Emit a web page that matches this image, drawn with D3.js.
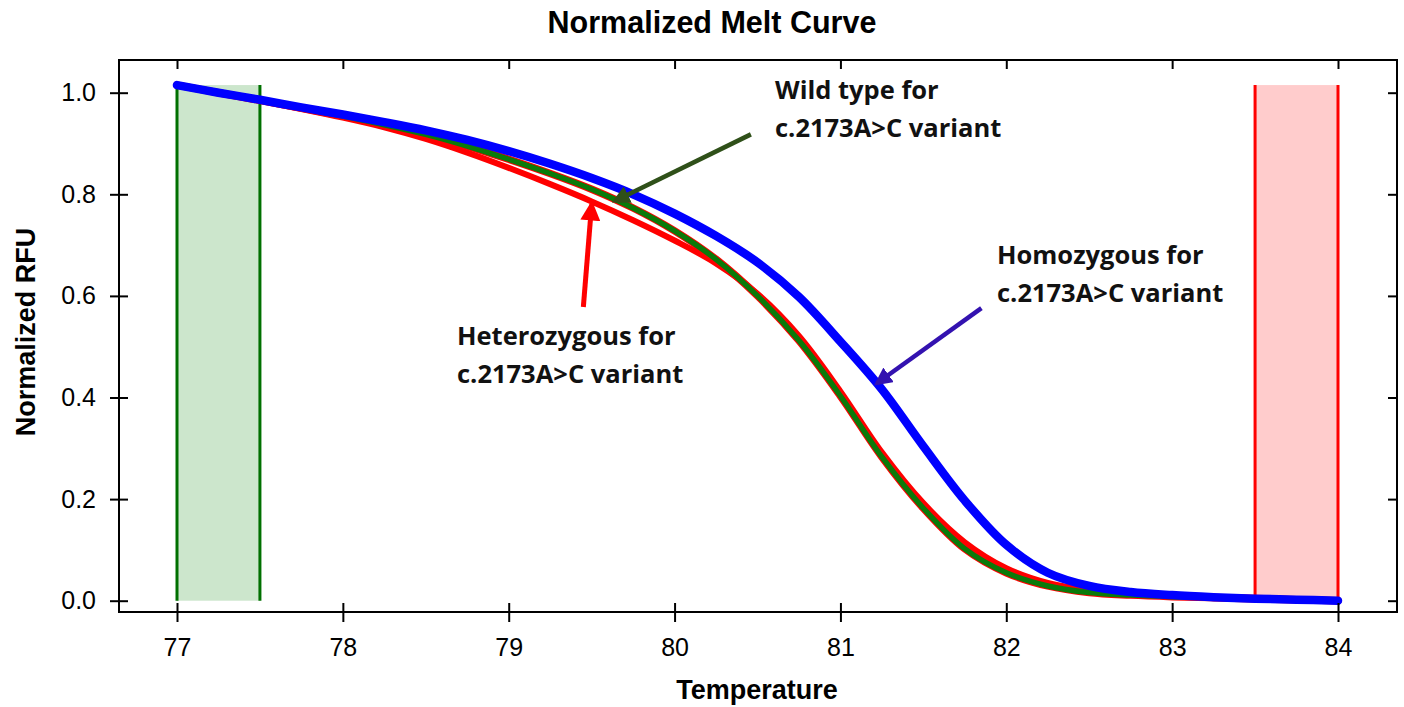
<!DOCTYPE html>
<html>
<head>
<meta charset="utf-8">
<script src="https://cdn.jsdelivr.net/npm/d3@7"></script>
<style>
  html, body { margin: 0; padding: 0; background: #fff; }
  svg { display: block; }
</style>
</head>
<body>
<svg id="chart" width="1404" height="707"></svg>
<script>
// ---------------- DATA ----------------
const temperature = [77, 77.25, 77.5, 77.75, 78, 78.25, 78.5, 78.75, 79, 79.25, 79.5, 79.75, 80, 80.25, 80.5, 80.75, 81, 81.25, 81.5, 81.75, 82, 82.25, 82.5, 82.75, 83, 83.25, 83.5, 83.75, 84];
const heterozygous = [1.015, 0.999, 0.984, 0.968, 0.951, 0.932, 0.909, 0.882, 0.852, 0.820, 0.786, 0.749, 0.709, 0.664, 0.604, 0.521, 0.412, 0.292, 0.192, 0.115, 0.064, 0.035, 0.021, 0.014, 0.011, 0.008, 0.006, 0.003, 0.001];
const wildType = [1.015, 1.000, 0.985, 0.970, 0.954, 0.937, 0.918, 0.895, 0.869, 0.841, 0.810, 0.773, 0.728, 0.672, 0.600, 0.512, 0.403, 0.283, 0.182, 0.102, 0.055, 0.029, 0.016, 0.011, 0.008, 0.006, 0.004, 0.002, 0.000];
const homozygous = [1.015, 1.000, 0.986, 0.971, 0.957, 0.942, 0.926, 0.907, 0.885, 0.860, 0.832, 0.800, 0.762, 0.718, 0.666, 0.598, 0.510, 0.416, 0.304, 0.197, 0.110, 0.055, 0.029, 0.017, 0.011, 0.007, 0.004, 0.002, 0.000];
const xTicks = [77, 78, 79, 80, 81, 82, 83, 84];
const yTicks = [0.0, 0.2, 0.4, 0.6, 0.8, 1.0];
const beginRegion = [77, 77.5];
const endRegion = [83.5, 84];
const regionTop = 1.015;
const title = "Normalized Melt Curve";
const xTitle = "Temperature";
const yTitle = "Normalized RFU";
const annotations = [
  { lines: ["Wild type for", "c.2173A>C variant"], from: [80.46, 0.918], to: [79.64, 0.787] },
  { lines: ["Heterozygous for", "c.2173A>C variant"], from: [79.45, 0.578], to: [79.5, 0.78] },
  { lines: ["Homozygous for", "c.2173A>C variant"], from: [81.85, 0.576], to: [81.22, 0.428] }
];

// ---------------- LAYOUT ----------------
const svg = d3.select("#chart");
const frame = { left: 119, right: 1397, top: 60, bottom: 612 };
const x = d3.scaleLinear().domain([77, 84]).range([177, 1338]);
const y = d3.scaleLinear().domain([0, 1]).range([600.7, 92.7]);

const fontAxis = "'Liberation Sans', Arial, sans-serif";
const fontNote = "'Open Sans', Lato, sans-serif";

// regions
function region(r, fill, edge) {
  const g = svg.append("g");
  g.append("rect")
    .attr("x", x(r[0])).attr("width", x(r[1]) - x(r[0]))
    .attr("y", y(regionTop)).attr("height", y(0) - y(regionTop))
    .attr("fill", fill);
  r.forEach(v => g.append("line")
    .attr("x1", x(v)).attr("x2", x(v))
    .attr("y1", y(regionTop)).attr("y2", y(0))
    .attr("stroke", edge).attr("stroke-width", 3));
}
region(beginRegion, "#cce6cc", "#007000");
region(endRegion, "#ffcccc", "#ff0000");

// curves
const line = d3.line()
  .x((d, i) => x(temperature[i]))
  .y(d => y(d))
  .curve(d3.curveCatmullRom.alpha(0.5));

svg.append("path").attr("d", line(heterozygous)).attr("fill", "none")
  .attr("stroke", "#ff0000").attr("stroke-width", 6).attr("stroke-linecap", "round");
svg.append("path").attr("d", line(wildType)).attr("fill", "none")
  .attr("stroke", "#ff0000").attr("stroke-width", 7.5).attr("stroke-linecap", "round");
svg.append("path").attr("d", line(wildType)).attr("fill", "none")
  .attr("stroke", "#0a7a0a").attr("stroke-width", 5.5).attr("stroke-linecap", "round");
svg.append("path").attr("d", line(homozygous)).attr("fill", "none")
  .attr("stroke", "#0000ff").attr("stroke-width", 8.5).attr("stroke-linecap", "round");

// frame
svg.append("rect")
  .attr("x", frame.left).attr("y", frame.top)
  .attr("width", frame.right - frame.left).attr("height", frame.bottom - frame.top)
  .attr("fill", "none").attr("stroke", "#000").attr("stroke-width", 2);

// bottom axis
const xAxis = svg.append("g").attr("transform", `translate(0,${frame.bottom})`)
  .call(d3.axisBottom(x).tickValues(xTicks).tickFormat(d3.format("d")).tickSize(10).tickPadding(16));
xAxis.select(".domain").remove();
xAxis.selectAll(".tick line").attr("y1", -9).attr("stroke-width", 2);
xAxis.selectAll(".tick text").attr("font-family", fontAxis).attr("font-size", 25).attr("fill", "#000");

// top ticks
const xTop = svg.append("g").attr("transform", `translate(0,${frame.top})`)
  .call(d3.axisTop(x).tickValues(xTicks).tickSize(-9).tickFormat(""));
xTop.select(".domain").remove();
xTop.selectAll(".tick line").attr("stroke-width", 2);

// left axis
const yAxis = svg.append("g").attr("transform", `translate(${frame.left},0)`)
  .call(d3.axisLeft(y).tickValues(yTicks).tickFormat(d3.format(".1f")).tickSize(9).tickPadding(14));
yAxis.select(".domain").remove();
yAxis.selectAll(".tick line").attr("x2", 9).attr("x1", -9).attr("stroke-width", 2);
yAxis.selectAll(".tick text").attr("font-family", fontAxis).attr("font-size", 25).attr("fill", "#000");

// right ticks
const yRight = svg.append("g").attr("transform", `translate(${frame.right},0)`)
  .call(d3.axisRight(y).tickValues(yTicks).tickSize(-9).tickFormat(""));
yRight.select(".domain").remove();
yRight.selectAll(".tick line").attr("stroke-width", 2);

// titles
svg.append("text").text(title)
  .attr("x", 712).attr("y", 33).attr("text-anchor", "middle")
  .attr("font-family", fontAxis).attr("font-weight", "bold").attr("font-size", 30.5);
svg.append("text").text(xTitle)
  .attr("x", 757).attr("y", 699).attr("text-anchor", "middle")
  .attr("font-family", fontAxis).attr("font-weight", "bold").attr("font-size", 27);
svg.append("text").text(yTitle)
  .attr("transform", "translate(35,332) rotate(-90)").attr("text-anchor", "middle")
  .attr("font-family", fontAxis).attr("font-weight", "bold").attr("font-size", 27);

// annotation arrows
const defs = svg.append("defs");
const arrowColors = ["#2f5019", "#ff0000", "#3312b0"];
arrowColors.forEach((c, i) => {
  defs.append("marker").attr("id", "arr" + i)
    .attr("viewBox", "0 0 10 10").attr("refX", 8).attr("refY", 5)
    .attr("markerWidth", 4).attr("markerHeight", 4).attr("orient", "auto")
    .attr("markerUnits", "strokeWidth")
    .append("path").attr("d", "M0,0 L10,5 L0,10 Z").attr("fill", c);
});
annotations.forEach((a, i) => {
  svg.append("line")
    .attr("x1", x(a.from[0])).attr("y1", y(a.from[1]))
    .attr("x2", x(a.to[0])).attr("y2", y(a.to[1]))
    .attr("stroke", arrowColors[i]).attr("stroke-width", i === 1 ? 5 : 4.5)
    .attr("marker-end", `url(#arr${i})`);
});

// annotation texts
const notePos = [[775, 99], [457, 345], [997, 264]];
annotations.forEach((a, i) => {
  const t = svg.append("text")
    .attr("font-family", fontNote).attr("font-weight", "bold").attr("font-size", 25.5).attr("fill", "#111");
  a.lines.forEach((l, j) => {
    t.append("tspan").attr("x", notePos[i][0]).attr("y", notePos[i][1] + j * 38).text(l);
  });
});
</script>
</body>
</html>
